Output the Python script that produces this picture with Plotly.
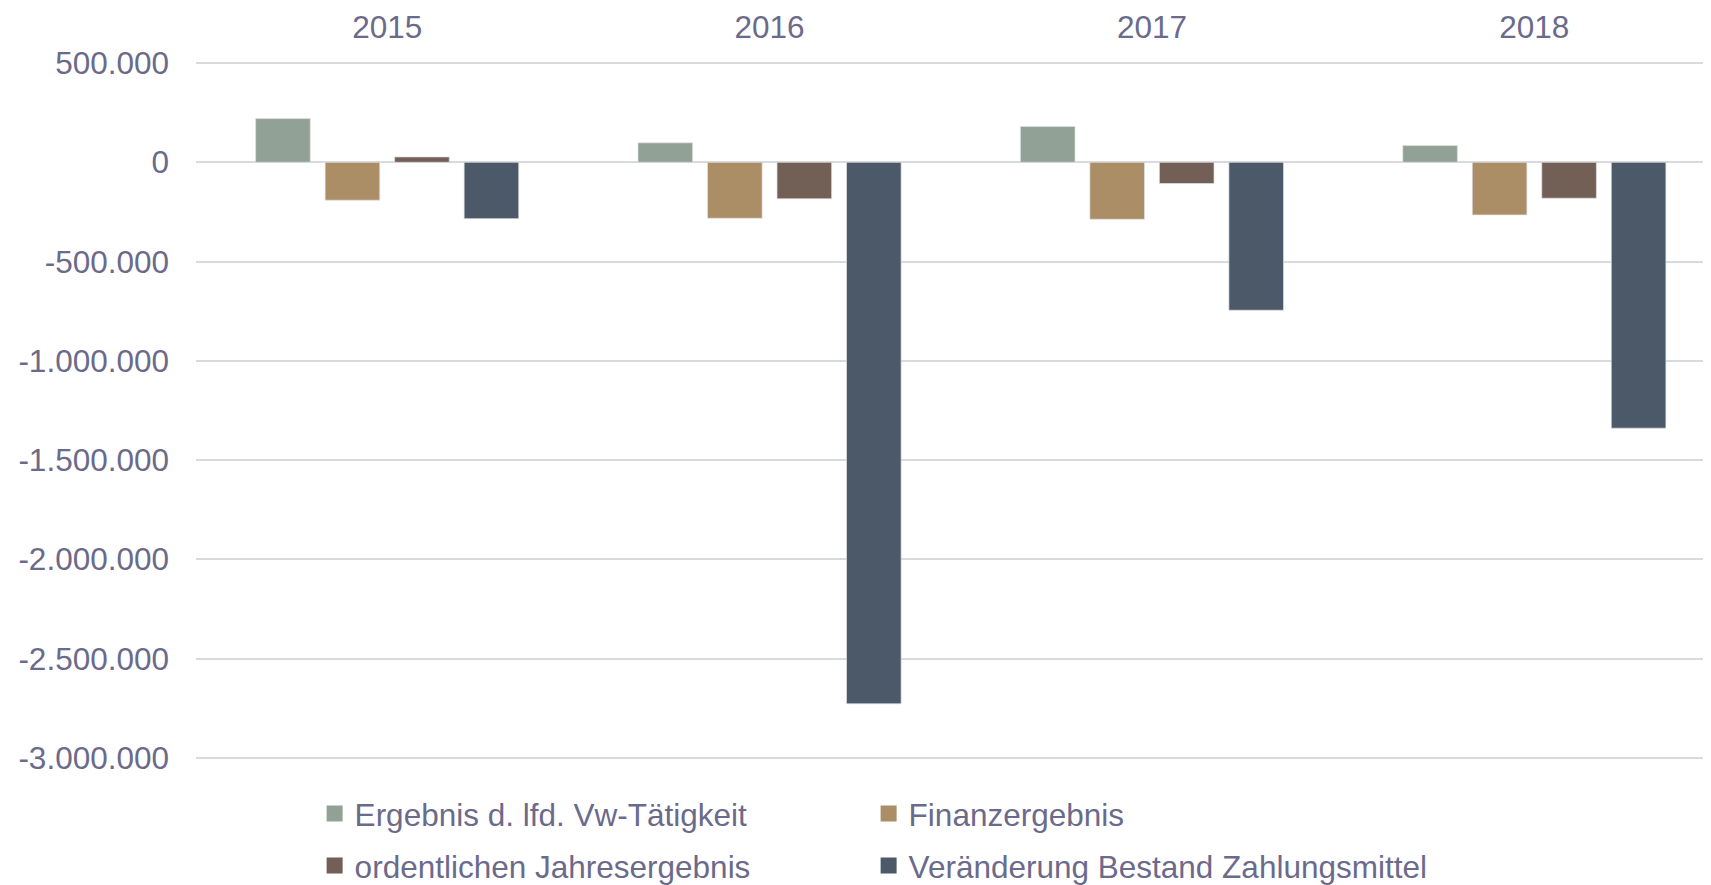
import plotly.graph_objects as go

# --- data -------------------------------------------------------------
years = ['2015', '2016', '2017', '2018']

series_names = [
    'Ergebnis d. lfd. Vw-Tätigkeit',
    'Finanzergebnis',
    'ordentlichen Jahresergebnis',
    'Veränderung Bestand Zahlungsmittel',
]
ergebnis_vw = [220000, 98000, 180000, 84000]
finanzergebnis = [-191000, -282000, -287000, -265000]
jahresergebnis = [27000, -184000, -107000, -181000]
zahlungsmittel = [-284000, -2727000, -745000, -1339000]

tick_vals = [500000, 0, -500000, -1000000, -1500000, -2000000, -2500000, -3000000]
tick_labels = ['500.000', '0', '-500.000', '-1.000.000', '-1.500.000',
               '-2.000.000', '-2.500.000', '-3.000.000']

colors = ['#92A195', '#AB8D66', '#725F55', '#4C5969']

_TEXT = '#6B6A8B'
_GRID = '#D9D9E1'
_FONT = 'Liberation Sans, Arial, sans-serif'
_SIZE = 31.5

# two legend rows, two entries each (like the Excel legend)
legend_rows = ['legend', 'legend', 'legend2', 'legend2']
legend_widths = [509, 620, 509, 620]

fig = go.Figure()
for name, vals, col, leg, lw in zip(series_names,
                                    [ergebnis_vw, finanzergebnis, jahresergebnis, zahlungsmittel],
                                    colors, legend_rows, legend_widths):
    fig.add_trace(go.Bar(
        x=years, y=vals, name=name, showlegend=False,
        marker=dict(color=col, line=dict(width=1, color='rgba(225,225,230,0.7)')),
        hoverinfo='x+y+name',
    ))
    # legend proxy so the swatch is a bigger square like the original
    fig.add_trace(go.Scatter(
        x=[None], y=[None], name=name, mode='markers', legend=leg, legendwidth=lw,
        marker=dict(symbol='square', size=16, color=col),
        hoverinfo='skip',
    ))

_legend = dict(
    orientation='h', x=0.0783, xanchor='left', yanchor='top',
    entrywidth=509, entrywidthmode='pixels',
    font=dict(family=_FONT, size=_SIZE, color=_TEXT),
    bgcolor='rgba(0,0,0,0)', traceorder='normal',
)

fig.update_layout(
    barmode='group', bargap=0.273, bargroupgap=0.214,
    plot_bgcolor='white', paper_bgcolor='white',
    width=1703, height=877,
    margin=dict(l=188, r=0, t=53.3, b=124.5, autoexpand=False),
    font=dict(family=_FONT, size=_SIZE, color=_TEXT),
    legend=dict(_legend, y=-0.038),
    legend2=dict(_legend, y=-0.1124),
)
fig.update_xaxes(
    side='top', range=[-0.5, 3.462], showgrid=False, showline=False,
    ticks='', ticklabelstandoff=16, tickfont=dict(size=_SIZE, color=_TEXT),
)
fig.update_yaxes(
    range=[-3010000, 510000], tickvals=tick_vals, ticktext=tick_labels,
    showgrid=True, gridcolor=_GRID, gridwidth=1.5,
    zeroline=True, zerolinecolor=_GRID, zerolinewidth=1.5,
    showline=False, ticks='', ticklabelstandoff=26,
    tickfont=dict(size=_SIZE, color=_TEXT),
)

fig.write_html("out.html")
